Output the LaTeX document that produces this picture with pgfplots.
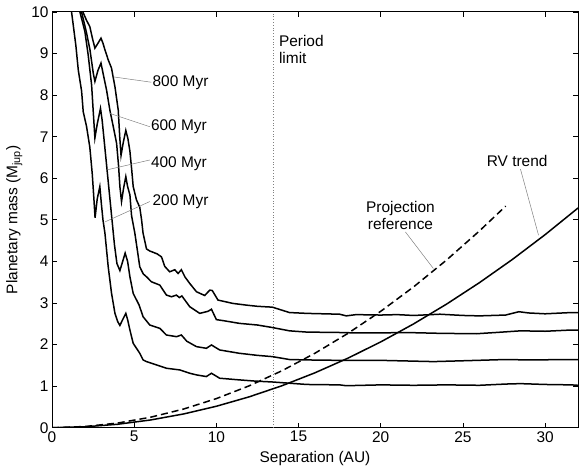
\documentclass[border=0pt]{standalone}
\usepackage{fontspec}
\setmainfont{Liberation Sans}
\usepackage{pgfplots}
\pgfplotsset{compat=1.18}
\pgfplotsset{curve/.style={black, mark=none, line width=1.5bp}}
\begin{document}
\begin{tikzpicture}[font=\fontsize{15.5}{18}\selectfont]
\begin{axis}[
    scale only axis,
    width=526bp, height=415.7bp,
    xmin=0, xmax=32,
    ymin=0, ymax=10,
    xtick={0,5,...,30},
    ytick={0,1,...,10},
    tick align=inside,
    major tick length=5bp,
    every tick/.style={black, line width=0.8bp},
    axis line style={line width=1bp},
    xlabel={Separation (AU)},
    ylabel={Planetary mass (M\textsubscript{jup})},
    xlabel style={yshift=-2bp},
    ylabel style={yshift=2bp},
    /pgf/number format/assume math mode=true,
]

% period limit
\addplot[gray, dotted, line width=0.8bp, mark=none] coordinates {(13.44,0) (13.44,10)};

% 200 Myr
\addplot[curve] coordinates {
(1.19,10)(1.45,9.2)(1.6,8.6)(1.8,8.1)(1.9,7.6)(2.1,7.25)(2.3,6.75)(2.45,6.1)(2.55,5.5)(2.62,5.05)
(2.75,5.5)(2.91,5.8)(3.0,5.4)(3.1,5.0)(3.22,4.68)(3.42,3.87)(3.62,3.24)(3.83,2.75)(4.0,2.55)(4.13,2.46)
(4.3,2.6)(4.49,2.75)(4.6,2.6)(4.74,2.35)(4.94,2.03)(5.34,1.79)(5.54,1.63)(5.75,1.59)(6.36,1.51)(6.96,1.43)
(7.77,1.39)(8.38,1.31)(8.79,1.27)(9.39,1.23)(9.7,1.31)(10.2,1.19)(11.4,1.15)(12.4,1.12)(13.4,1.1)(14.45,1.07)
(15.5,1.04)(17.5,1.03)(17.9,1.01)(20,1.03)(22,1.02)(24,1.03)(26,1.02)(27.6,1.05)(28.5,1.06)(30,1.04)(31.6,1.03)(32,1.02)
};

% 400 Myr
\addplot[curve] coordinates {
(1.7,10)(2.0,9.53)(2.2,8.97)(2.41,8.24)(2.51,7.6)(2.61,6.97)(2.75,7.3)(2.95,7.68)(3.05,7.4)(3.2,6.8)
(3.4,6.0)(3.6,5.2)(3.8,4.4)(3.95,3.95)(4.13,3.78)(4.3,4.0)(4.45,4.2)(4.6,4.0)(4.74,3.63)(4.94,3.23)
(5.3,2.95)(5.54,2.67)(5.95,2.47)(6.56,2.39)(6.96,2.23)(7.57,2.19)(7.87,2.23)(8.2,2.08)(8.79,1.95)(9.39,1.91)
(9.7,1.99)(10.2,1.87)(11.4,1.79)(12.5,1.74)(13.4,1.71)(14.45,1.64)(15.5,1.63)(17.5,1.62)(20,1.62)(23.2,1.59)
(25,1.61)(27.6,1.64)(29,1.63)(31.6,1.64)(32,1.64)
};

% 600 Myr
\addplot[curve] coordinates {
(1.8,10)(2.1,9.5)(2.31,9.09)(2.51,8.53)(2.61,8.33)(2.8,8.6)(2.98,8.77)(3.12,8.5)(3.32,8.12)(3.52,7.64)
(3.75,7.2)(3.93,6.84)(4.05,6.3)(4.13,5.8)(4.23,5.44)(4.35,5.75)(4.49,6.04)(4.6,5.8)(4.74,5.6)(4.84,5.1)
(5.04,4.68)(5.2,4.25)(5.34,3.87)(5.55,3.7)(5.75,3.63)(6.05,3.51)(6.56,3.43)(6.96,3.19)(7.27,3.15)(7.57,3.19)
(7.75,3.13)(7.9,3.17)(8.38,2.91)(8.99,2.75)(9.49,2.8)(9.7,2.85)(10,2.6)(10.5,2.57)(11.4,2.51)(12.5,2.47)
(13.4,2.41)(14.45,2.33)(15.5,2.3)(17.5,2.29)(18.5,2.28)(20,2.28)(21.5,2.29)(23.6,2.27)(25.8,2.26)(27,2.29)
(28.5,2.33)(30,2.32)(31.6,2.35)(32,2.35)
};

% 800 Myr
\addplot[curve] coordinates {
(1.88,10)(2.1,9.8)(2.3,9.65)(2.47,9.35)(2.61,9.13)(2.8,9.25)(2.98,9.37)(3.1,9.25)(3.22,9.09)(3.42,8.85)
(3.62,8.65)(3.83,8.2)(4.03,7.64)(4.12,7.0)(4.2,6.55)(4.33,6.85)(4.49,7.15)(4.62,6.95)(4.74,6.65)(4.85,6.2)
(4.94,5.8)(5.14,5.48)(5.34,5.3)(5.45,5.0)(5.54,4.68)(5.75,4.3)(5.95,4.25)(6.15,4.22)(6.4,4.18)(6.66,4.11)
(6.86,3.88)(7.16,3.75)(7.47,3.8)(7.67,3.71)(7.87,3.8)(8.1,3.62)(8.38,3.47)(8.79,3.27)(9.29,3.18)(9.6,3.31)
(9.75,3.3)(10.1,3.07)(11,2.99)(11.8,2.95)(12.5,2.92)(13.4,2.9)(14.45,2.77)(15.5,2.75)(17.5,2.73)(17.9,2.69)
(18.5,2.72)(20,2.71)(21,2.72)(22,2.7)(23.6,2.73)(25,2.7)(26,2.69)(27.6,2.71)(28.4,2.79)(29,2.76)
(30,2.74)(31.6,2.77)(32,2.77)
};

% projection reference
\addplot[curve, dash pattern=on 7bp off 4bp] coordinates {
(0,0)(2,0.028)(4,0.112)(6,0.252)(8,0.448)(10,0.700)(12,1.008)(14,1.372)(16,1.792)(18,2.268)
(20,2.800)(22,3.388)(24,4.032)(26,4.732)(27.6,5.33)
};

% RV trend
\addplot[curve] coordinates {
(0,0)(2,0.021)(4,0.083)(6,0.186)(8,0.330)(10,0.516)(12,0.743)(14,1.011)(16,1.321)(18,1.672)
(20,2.064)(22,2.497)(24,2.972)(26,3.488)(28,4.045)(30,4.644)(32,5.284)
};

% annotations
\draw[gray, line width=0.5bp] (axis cs:3.72,8.44) -- (axis cs:6.05,8.31);
\draw[gray, line width=0.5bp] (axis cs:3.52,7.56) -- (axis cs:5.95,7.24);
\draw[gray, line width=0.5bp] (axis cs:3.32,6.20) -- (axis cs:5.95,6.44);
\draw[gray, line width=0.5bp] (axis cs:3.22,4.95) -- (axis cs:5.95,5.44);
\node[anchor=west, inner sep=1bp] at (axis cs:6.05,8.31) {800 Myr};
\node[anchor=west, inner sep=1bp] at (axis cs:5.95,7.24) {600 Myr};
\node[anchor=west, inner sep=1bp] at (axis cs:5.95,6.34) {400 Myr};
\node[anchor=west, inner sep=1bp] at (axis cs:6.05,5.44) {200 Myr};
\node[anchor=north west, align=left, inner sep=0pt, font=\fontsize{15.5}{17}\selectfont] at (axis cs:13.8,9.45) {Period\\limit};
\node[align=center, inner sep=0pt, font=\fontsize{15.5}{17}\selectfont] at (axis cs:21.2,5.1) {Projection\\reference};
\draw[gray, line width=0.5bp] (axis cs:21.5,4.71) -- (axis cs:23.2,3.83);
\node[inner sep=0pt] at (axis cs:28.3,6.42) {RV trend};
\draw[gray, line width=0.5bp] (axis cs:28.5,6.22) -- (axis cs:29.6,4.63);
\end{axis}
\pgfresetboundingbox
\useasboundingbox ([xshift=-52bp,yshift=-42.3bp]current axis.south west) rectangle ([xshift=7bp,yshift=12bp]current axis.north east);
\end{tikzpicture}
\end{document}
